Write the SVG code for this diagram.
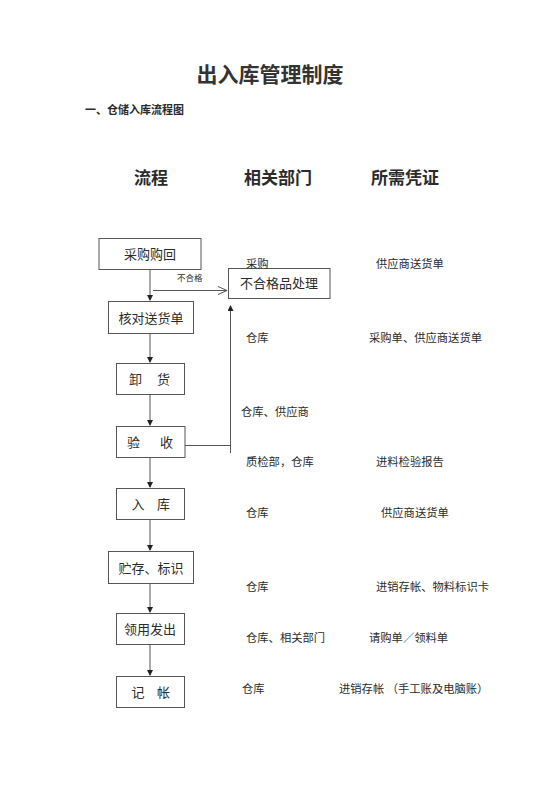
<svg xmlns="http://www.w3.org/2000/svg" width="560" height="792" viewBox="0 0 560 792">
<style>
text{font-family:"Noto Sans CJK SC","Noto Sans",sans-serif;fill:#2b2b2b}
.title{font-size:21px;font-weight:bold;fill:#333}
.sub{font-size:11px;font-weight:bold}
.hd{font-size:17px;font-weight:bold}
.bx{fill:#fff;stroke:#555;stroke-width:1}
.bt{font-size:13px;text-anchor:middle}
.rt{font-size:11.3px}
.ln{fill:none;stroke:#555;stroke-width:1}
.sm{font-size:8.5px}
</style>
<defs>
<marker id="ah" markerWidth="6" markerHeight="6" refX="5" refY="3" orient="auto" markerUnits="userSpaceOnUse">
<path d="M0,0 L6,3 L0,6 Z" fill="#222"/>
</marker>
<marker id="oh" markerWidth="10" markerHeight="10" refX="9" refY="5" orient="auto" markerUnits="userSpaceOnUse">
<path d="M0,1 L9,5 L0,9" fill="none" stroke="#555" stroke-width="1"/>
</marker>
</defs>
<rect width="560" height="792" fill="#fff"/>
<text class="title" x="270" y="82" text-anchor="middle">出入库管理制度</text>
<text class="sub" x="85" y="114">一、仓储入库流程图</text>
<text class="hd" x="134" y="183.5">流程</text>
<text class="hd" x="244" y="183.5">相关部门</text>
<text class="hd" x="371" y="183.5">所需凭证</text>

<g id="connectors">
<line class="ln" x1="150" y1="269" x2="150" y2="300" marker-end="url(#ah)"/>
<line class="ln" x1="150" y1="334" x2="150" y2="362" marker-end="url(#ah)"/>
<line class="ln" x1="150" y1="395" x2="150" y2="425" marker-end="url(#ah)"/>
<line class="ln" x1="150" y1="458" x2="150" y2="487" marker-end="url(#ah)"/>
<line class="ln" x1="150" y1="519" x2="150" y2="550" marker-end="url(#ah)"/>
<line class="ln" x1="150" y1="584" x2="150" y2="612" marker-end="url(#ah)"/>
<line class="ln" x1="150" y1="645" x2="150" y2="675" marker-end="url(#ah)"/>
<line class="ln" x1="153" y1="290.5" x2="227" y2="290.5" marker-end="url(#oh)"/>
<text class="sm" x="177" y="281">不合格</text>
<polyline class="ln" points="185,445.5 230.5,445.5"/>
<line class="ln" x1="230.5" y1="453" x2="230.5" y2="306" marker-end="url(#ah)"/>
</g>

<g id="n1"><rect class="bx" x="99" y="238.5" width="102" height="31"/><text class="bt" x="150" y="258.5">采购购回</text></g>
<g id="n2"><rect class="bx" x="228.5" y="268.5" width="101.5" height="30"/><text class="bt" x="279" y="288">不合格品处理</text></g>
<g id="n3"><rect class="bx" x="108.5" y="301.5" width="85" height="32"/><text class="bt" x="151" y="322.5">核对送货单</text></g>
<g id="n4"><rect class="bx" x="116.5" y="363.5" width="68" height="31"/><text class="bt" x="150" y="383.5"><tspan x="135.5">卸</tspan><tspan x="163.5">货</tspan></text></g>
<g id="n5"><rect class="bx" x="116.5" y="426.5" width="68.5" height="31"/><text class="bt" x="150" y="447"><tspan x="133.5">验</tspan><tspan x="166.5">收</tspan></text></g>
<g id="n6"><rect class="bx" x="116.5" y="488.5" width="68" height="31"/><text class="bt" x="150" y="508.5"><tspan x="138">入</tspan><tspan x="163.5">库</tspan></text></g>
<g id="n7"><rect class="bx" x="108.5" y="551.5" width="85" height="32"/><text class="bt" x="151" y="572.5">贮存、标识</text></g>
<g id="n8"><rect class="bx" x="116.5" y="613.5" width="68" height="31"/><text class="bt" x="150" y="634">领用发出</text></g>
<g id="n9"><rect class="bx" x="116.5" y="676.5" width="68" height="31"/><text class="bt" x="150" y="697"><tspan x="138">记</tspan><tspan x="163.5">帐</tspan></text></g>

<g id="labels">
<text class="rt" x="246" y="268">采购</text>
<text class="rt" x="376" y="268">供应商送货单</text>
<text class="rt" x="246" y="342">仓库</text>
<text class="rt" x="369" y="342">采购单、供应商送货单</text>
<text class="rt" x="241" y="416">仓库、供应商</text>
<text class="rt" x="246" y="466">质检部，仓库</text>
<text class="rt" x="376" y="466">进料检验报告</text>
<text class="rt" x="246" y="517">仓库</text>
<text class="rt" x="381" y="517">供应商送货单</text>
<text class="rt" x="246" y="591">仓库</text>
<text class="rt" x="376" y="591">进销存帐、物料标识卡</text>
<text class="rt" x="246" y="642">仓库、相关部门</text>
<text class="rt" x="369" y="642">请购单／领料单</text>
<text class="rt" x="242" y="693">仓库</text>
<text class="rt" x="339" y="693">进销存帐 （手工账及电脑账）</text>
</g>
</svg>
